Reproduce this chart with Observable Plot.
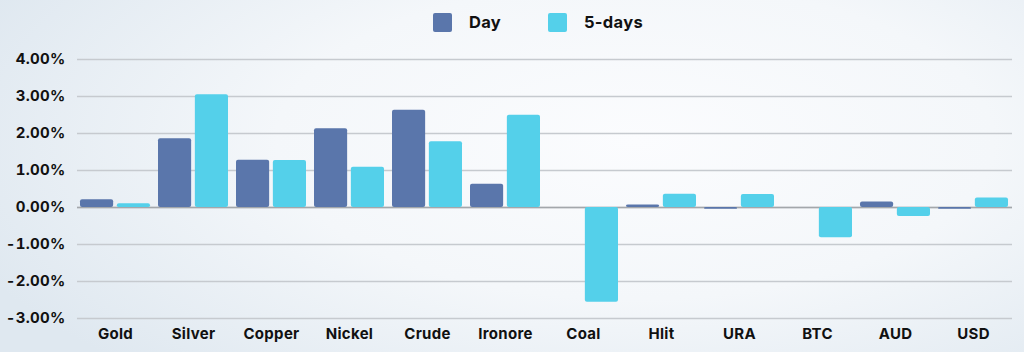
<!DOCTYPE html>
<html>
<head>
<meta charset="utf-8">
<script src="https://cdn.jsdelivr.net/npm/d3@7"></script>
<script src="https://cdn.jsdelivr.net/npm/@observablehq/plot@0.6"></script>
<style>
  html, body { margin: 0; padding: 0; }
  body {
    width: 1024px; height: 352px; overflow: hidden;
    background: radial-gradient(ellipse 70% 90% at 62% 40%, #fbfcfe 0%, #f4f7fa 50%, #dfe8f0 100%);
    font-family: "Inter", "Open Sans", sans-serif;
  }
  #legend {
    position: relative; height: 42px; width: 1024px;
  }
  .item { position: absolute; top: 12px; display: flex; align-items: center; font-weight: 700; font-size: 16.5px; color: #111; letter-spacing: 0.3px; }
  .sw { width: 19px; height: 19px; border-radius: 2px; margin-right: 17px; }
  #chart svg { display: block; }
</style>
</head>
<body>
<div id="legend"></div>
<div id="chart"></div>
<script>
const categories = ["Gold","Silver","Copper","Nickel","Crude","Ironore","Coal","Hlit","URA","BTC","AUD","USD"];
const series = ["Day","5-days"];
const dayValues = [0.21, 1.86, 1.28, 2.13, 2.63, 0.63, 0.00, 0.07, -0.05, 0.00, 0.15, -0.05];
const fiveDayValues = [0.10, 3.05, 1.27, 1.09, 1.78, 2.49, -2.56, 0.36, 0.35, -0.82, -0.24, 0.26];
const yTicks = [-3, -2, -1, 0, 1, 2, 3, 4];
const colors = ["#5a76ab", "#54d0ea"];

const dayData = categories.map((c, i) => ({category: c, series: series[0], value: dayValues[i]}));
const fiveData = categories.map((c, i) => ({category: c, series: series[1], value: fiveDayValues[i]}));

// legend
const legend = document.getElementById("legend");
const legendPos = [433, 548];
series.forEach((label, i) => {
  const d = document.createElement("div");
  d.className = "item";
  d.style.left = legendPos[i] + "px";
  d.innerHTML = `<span class="sw" style="background:${colors[i]}"></span><span>${label}</span>`;
  legend.appendChild(d);
});

const marginLeft = 77, marginRight = 12, width = 1024;
const paddingInner = 0.1;
const step = (width - marginLeft - marginRight) / (categories.length - paddingInner);
const bw = step * (1 - paddingInner);
const gap = 3;
const half = bw / 2 + gap / 2;

const chart = Plot.plot({
  width, height: 310,
  marginLeft, marginRight, marginTop: 17, marginBottom: 34,
  style: {background: "transparent", fontFamily: "Inter, 'Open Sans', sans-serif", fontSize: "15px", fontWeight: 700, color: "#111", overflow: "visible", letterSpacing: "0.3px"},
  x: {domain: categories, paddingInner, paddingOuter: 0, align: 0.5, label: null, tickSize: 0, tickPadding: 10},
  y: {domain: [-3, 4], ticks: yTicks, tickFormat: d => d.toFixed(2) + "%", label: null, tickSize: 0, tickPadding: 12},
  marks: [
    Plot.ruleY(yTicks, {stroke: "#c6cacf", strokeWidth: 1.5, strokeOpacity: 1}),
    Plot.ruleY([0], {stroke: "#a3a7ab", strokeWidth: 1.5}),
    Plot.barY(dayData, {x: "category", y: "value", fill: colors[0], insetRight: half, rx: 2}),
    Plot.barY(fiveData, {x: "category", y: "value", fill: colors[1], insetLeft: half, rx: 2})
  ]
});
document.getElementById("chart").appendChild(chart);
</script>
</body>
</html>
